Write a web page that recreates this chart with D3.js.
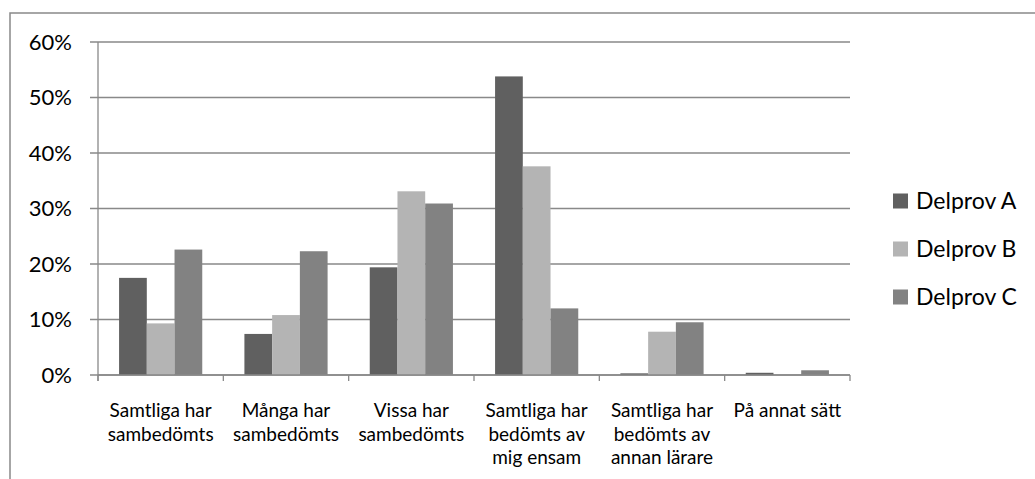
<!DOCTYPE html>
<html>
<head>
<meta charset="utf-8" />
<style>
body { margin: 0; background-color: #fff; }
#chart { width: 1035px; height: 479px; }
text { font-family: Lato, "Open Sans", sans-serif; fill: #000; }
</style>
</head>
<body>
<div id="chart"></div>
<script src="https://d3js.org/d3.v7.min.js"></script>
<script>

var categories = [
    ["Samtliga har", "sambedömts"],
    ["Många har", "sambedömts"],
    ["Vissa har", "sambedömts"],
    ["Samtliga har", "bedömts av", "mig ensam"],
    ["Samtliga har", "bedömts av", "annan lärare"],
    ["På annat sätt"]
];
var seriesNames = ["Delprov A", "Delprov B", "Delprov C"];
var delprovA = [17.5, 7.4, 19.4, 53.8, 0.3, 0.4];
var delprovB = [9.3, 10.8, 33.1, 37.6, 7.8, 0];
var delprovC = [22.6, 22.3, 30.9, 12.0, 9.5, 0.85];
var yTicks = [0, 10, 20, 30, 40, 50, 60];
var colors = ["#606060", "#b4b4b4", "#828282"];

var width = 1035, height = 479;
var margin = {top: 42, left: 98, right: 185, bottom: 104};

var svg = d3.select("#chart").append("svg")
    .attr("width", width)
    .attr("height", height);

// outer frame (only left and top visible)
svg.append("rect")
    .attr("x", 10).attr("y", 13)
    .attr("width", width + 20).attr("height", height + 20)
    .attr("fill", "none")
    .attr("stroke", "#898989")
    .attr("stroke-width", 1.5);

var x = d3.scaleBand()
    .domain(d3.range(categories.length))
    .range([margin.left, width - margin.right]);

var x1 = d3.scaleBand()
    .domain(d3.range(seriesNames.length))
    .range([0, x.bandwidth()])
    .paddingInner(0)
    .paddingOuter(0.76);

var y = d3.scaleLinear()
    .domain([0, 60])
    .range([height - margin.bottom, margin.top]);

// gridlines
svg.append("g").selectAll("line")
    .data(yTicks)
    .join("line")
    .attr("x1", margin.left - 8)
    .attr("x2", width - margin.right)
    .attr("y1", function(d) { return y(d); })
    .attr("y2", function(d) { return y(d); })
    .attr("stroke", "#898989")
    .attr("stroke-width", 1.3);

// y labels
svg.append("g").selectAll("text")
    .data(yTicks)
    .join("text")
    .attr("x", 72)
    .attr("y", function(d) { return y(d); })
    .attr("dy", "0.36em")
    .attr("text-anchor", "end")
    .style("font-size", "22px")
    .text(function(d) { return d + "%"; });

// bars
var series = [delprovA, delprovB, delprovC];
series.forEach(function(vals, s) {
    svg.append("g").selectAll("rect")
        .data(vals)
        .join("rect")
        .attr("x", function(d, i) { return x(i) + x1(s); })
        .attr("width", x1.bandwidth())
        .attr("y", function(d) { return y(d); })
        .attr("height", function(d) { return y(0) - y(d); })
        .attr("fill", colors[s]);
});

// y axis line
svg.append("line")
    .attr("x1", margin.left).attr("x2", margin.left)
    .attr("y1", y(60)).attr("y2", y(0) + 6)
    .attr("stroke", "#898989")
    .attr("stroke-width", 1.3);

// x axis line + ticks
svg.append("line")
    .attr("x1", margin.left).attr("x2", width - margin.right)
    .attr("y1", y(0)).attr("y2", y(0))
    .attr("stroke", "#898989")
    .attr("stroke-width", 1.3);

svg.append("g").selectAll("line")
    .data(d3.range(categories.length + 1))
    .join("line")
    .attr("x1", function(d) { return margin.left + d * x.step(); })
    .attr("x2", function(d) { return margin.left + d * x.step(); })
    .attr("y1", y(0))
    .attr("y2", y(0) + 6)
    .attr("stroke", "#898989")
    .attr("stroke-width", 1.3);

// category labels
var cat = svg.append("g").selectAll("text")
    .data(categories)
    .join("text")
    .attr("text-anchor", "middle")
    .style("font-size", "19px")
    .attr("transform", function(d, i) {
        return "translate(" + (x(i) + x.bandwidth() / 2) + "," + (y(0) + 42) + ")";
    });
cat.selectAll("tspan")
    .data(function(d) { return d; })
    .join("tspan")
    .attr("x", 0)
    .attr("y", function(d, i) { return i * 23.5; })
    .text(function(d) { return d; });

// legend
var legend = svg.append("g").selectAll("g")
    .data(seriesNames)
    .join("g")
    .attr("transform", function(d, i) { return "translate(893," + (201 + i * 48) + ")"; });
legend.append("rect")
    .attr("x", 0).attr("y", -7.5)
    .attr("width", 15).attr("height", 15)
    .attr("fill", function(d, i) { return colors[i]; });
legend.append("text")
    .attr("x", 23)
    .attr("dy", "0.36em")
    .style("font-size", "23px")
    .text(function(d) { return d; });

</script>
</body>
</html>
